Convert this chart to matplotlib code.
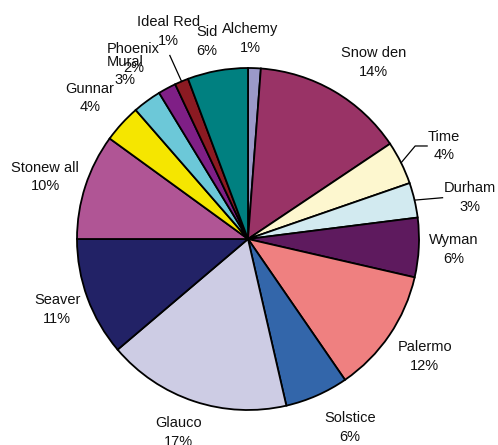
import numpy as np
import matplotlib
matplotlib.use('Agg')
import matplotlib.pyplot as plt

plt.rcParams['font.family'] = ['Liberation Sans', 'DejaVu Sans']

# slices in drawing order (clockwise from 12 o'clock)
names = ['Alchemy', 'Snow den', 'Time', 'Durham', 'Wyman', 'Palermo', 'Solstice',
		 'Glauco', 'Seaver', 'Stonew all', 'Gunnar', 'Mural', 'Phoenix', 'Ideal Red', 'Sid']
shares = [1.2, 14.4, 4.1, 3.3, 5.6, 11.8, 6.0, 17.4, 11.2, 10.0, 3.6, 2.7, 1.7, 1.3, 5.7]
colors = ['#9b99c9', '#993366', '#fdf7cf', '#d2eaf0', '#5e1a5e', '#ef8080', '#3366aa',
		  '#cdcce4', '#222266', '#b05595', '#f5e600', '#6cc8d8', '#7f1f86', '#8b1a22', '#008080']

# label placement tweaks (radius factor, angle nudge in degrees)
label_r = [1.175, 1.27, 1.27, 1.32, 1.205, 1.24, 1.255, 1.205, 1.19, 1.24, 1.24, 1.217, 1.25, 1.30, 1.18]
label_da = [-1.6, 5.2, 1.1, 2.6, 0.1, -0.7, -4.6, 1.4, -0.2, -1.0, -0.8, 0.0, -4.1, 1.8, -1.5]
leaders = {'Time': 'elbow', 'Durham': 'straight', 'Ideal Red': 'down'}

fig = plt.figure(figsize=(4.98, 4.45), dpi=100)
ax = fig.add_axes([0, 0, 1, 1])

wedges, _ = ax.pie(shares, colors=colors, startangle=90, counterclock=False,
				   radius=1.0, wedgeprops=dict(edgecolor='black', linewidth=1.3))
# pie() resets the limits, so set them afterwards
ax.set_xlim(-248 / 171, 250 / 171)
ax.set_ylim(-206 / 171, 239 / 171)
ax.set_aspect('auto')
ax.axis('off')

total = sum(shares)
cum = np.cumsum([0] + shares)
for i, name in enumerate(names):
	mid = (cum[i] + cum[i + 1]) / 2 / total * 360.0
	a = np.deg2rad(mid + label_da[i])
	lx, ly = label_r[i] * np.sin(a), label_r[i] * np.cos(a)
	pct = f'{round(shares[i] / total * 100):.0f}%'
	ax.text(lx, ly, f'{name}\n{pct}', ha='center', va='center', fontsize=10.5,
			color='#111111', linespacing=1.45)
	if name in leaders:
		am = np.deg2rad(mid)
		ex, ey = np.sin(am), np.cos(am)
		kind = leaders[name]
		if kind == 'elbow':
			xs, ys = [ex, lx - 0.17, lx - 0.10], [ey, ly, ly]
		elif kind == 'straight':
			xs, ys = [ex, lx - 0.16], [ey, ly]
		else:
			xs, ys = [ex, lx + 0.01], [ey, ly - 0.14]
		ax.plot(xs, ys, color='black', linewidth=0.9)

fig.savefig('out.png', dpi=100)
